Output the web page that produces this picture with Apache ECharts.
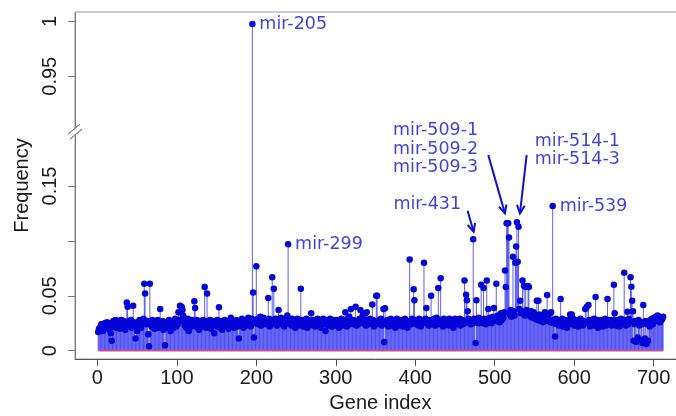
<!DOCTYPE html>
<html><head><meta charset="utf-8">
<script src="https://cdn.jsdelivr.net/npm/echarts@6/dist/echarts.min.js"></script>
<style>html,body{margin:0;padding:0;background:#fff}#c{width:676px;height:416px}</style>
</head><body><div id="c"></div>
<script>
// Frequency per gene (gene index 1..712)
const freq = [
0.017,0.020,0.019,0.022,0.024,0.021,0.018,0.023,0.025,0.022,
0.024,0.026,0.021,0.023,0.019,0.025,0.016,0.009,0.022,0.027,
0.024,0.026,0.028,0.021,0.025,0.027,0.023,0.020,0.026,0.028,
0.025,0.022,0.027,0.024,0.019,0.026,0.044,0.040,0.023,0.027,
0.025,0.028,0.021,0.024,0.041,0.026,0.022,0.011,0.025,0.018,
0.026,0.023,0.028,0.024,0.021,0.027,0.025,0.029,0.061,0.052,
0.026,0.024,0.027,0.015,0.004,0.061,0.025,0.022,0.028,0.024,
0.026,0.020,0.027,0.023,0.025,0.028,0.021,0.024,0.038,0.026,
0.022,0.027,0.019,0.024,0.005,0.023,0.026,0.021,0.025,0.028,
0.024,0.018,0.026,0.023,0.027,0.021,0.025,0.029,0.022,0.026,
0.024,0.035,0.028,0.041,0.027,0.040,0.037,0.032,0.026,0.023,
0.027,0.021,0.025,0.029,0.018,0.024,0.026,0.022,0.028,0.025,
0.023,0.045,0.039,0.026,0.028,0.021,0.025,0.019,0.027,0.024,
0.026,0.022,0.028,0.024,0.058,0.025,0.021,0.052,0.027,0.023,
0.025,0.028,0.020,0.026,0.023,0.027,0.016,0.024,0.026,0.022,
0.028,0.025,0.0395,0.021,0.027,0.024,0.019,0.026,0.023,0.028,
0.025,0.022,0.027,0.024,0.020,0.026,0.028,0.030,0.023,0.025,
0.027,0.021,0.026,0.024,0.028,0.022,0.025,0.011,0.027,0.023,
0.026,0.029,0.024,0.021,0.027,0.025,0.023,0.028,0.026,0.030,
0.024,0.027,0.022,0.029,0.9975,0.053,0.012,0.028,0.025,0.077,
0.026,0.029,0.024,0.027,0.031,0.023,0.028,0.025,0.030,0.026,
0.028,0.024,0.027,0.026,0.048,0.029,0.022,0.026,0.028,0.067,
0.027,0.0565,0.024,0.029,0.026,0.023,0.028,0.037,0.025,0.027,
0.030,0.024,0.028,0.026,0.022,0.029,0.027,0.025,0.032,0.097,
0.028,0.025,0.027,0.023,0.029,0.026,0.024,0.028,0.021,0.027,
0.025,0.029,0.023,0.027,0.026,0.0565,0.024,0.028,0.022,0.026,
0.027,0.024,0.029,0.021,0.026,0.028,0.023,0.025,0.034,0.027,
0.024,0.028,0.026,0.022,0.027,0.025,0.029,0.023,0.026,0.028,
0.021,0.027,0.025,0.029,0.024,0.026,0.018,0.028,0.025,0.023,
0.027,0.024,0.029,0.026,0.022,0.028,0.025,0.027,0.023,0.026,
0.028,0.024,0.026,0.021,0.027,0.025,0.029,0.023,0.026,0.028,
0.026,0.035,0.027,0.022,0.029,0.026,0.031,0.024,0.038,0.027,
0.025,0.028,0.024,0.026,0.040,0.023,0.027,0.024,0.025,0.029,
0.037,0.026,0.029,0.032,0.025,0.027,0.034,0.023,0.035,0.028,
0.026,0.024,0.029,0.027,0.025,0.042,0.028,0.022,0.026,0.024,
0.050,0.050,0.026,0.024,0.028,0.025,0.029,0.023,0.027,0.038,
0.008,0.0386,0.026,0.024,0.028,0.022,0.027,0.025,0.029,0.023,
0.026,0.028,0.024,0.027,0.021,0.026,0.029,0.025,0.023,0.028,
0.026,0.024,0.027,0.022,0.028,0.025,0.029,0.024,0.026,0.021,
0.027,0.025,0.083,0.026,0.024,0.029,0.027,0.056,0.046,0.028,
0.025,0.024,0.027,0.023,0.029,0.026,0.022,0.028,0.025,0.027,
0.080,0.026,0.029,0.039,0.025,0.027,0.023,0.028,0.026,0.050,
0.024,0.028,0.025,0.029,0.023,0.027,0.030,0.026,0.057,0.024,
0.028,0.066,0.025,0.027,0.022,0.029,0.026,0.024,0.028,0.025,
0.027,0.023,0.029,0.026,0.028,0.024,0.027,0.021,0.025,0.029,
0.026,0.028,0.024,0.027,0.025,0.029,0.023,0.026,0.028,0.024,
0.027,0.064,0.025,0.051,0.046,0.036,0.029,0.026,0.028,0.024,
0.027,0.025,0.1015,0.029,0.026,0.007,0.046,0.028,0.025,0.030,
0.027,0.026,0.060,0.028,0.025,0.057,0.029,0.027,0.024,0.064,
0.028,0.038,0.026,0.030,0.027,0.025,0.029,0.031,0.039,0.028,
0.030,0.061,0.027,0.032,0.029,0.026,0.031,0.034,0.028,0.033,
0.030,0.035,0.073,0.058,0.116,0.116,0.116,0.103,0.033,0.037,
0.031,0.034,0.0856,0.036,0.032,0.080,0.095,0.117,0.081,0.113,
0.038,0.0455,0.034,0.036,0.064,0.035,0.059,0.032,0.058,0.037,
0.033,0.059,0.058,0.034,0.031,0.036,0.033,0.030,0.035,0.032,
0.029,0.031,0.0455,0.028,0.0455,0.033,0.030,0.027,0.032,0.029,
0.026,0.030,0.035,0.028,0.031,0.0507,0.027,0.029,0.034,0.026,
0.035,0.028,0.1318,0.025,0.027,0.013,0.029,0.024,0.028,0.026,
0.023,0.027,0.047,0.025,0.029,0.022,0.026,0.028,0.024,0.027,
0.021,0.025,0.028,0.024,0.033,0.026,0.033,0.025,0.029,0.023,
0.027,0.024,0.026,0.028,0.022,0.027,0.025,0.029,0.024,0.026,
0.023,0.027,0.025,0.038,0.026,0.040,0.026,0.0416,0.028,0.022,
0.026,0.024,0.027,0.025,0.029,0.023,0.049,0.026,0.028,0.021,
0.025,0.027,0.024,0.028,0.026,0.022,0.027,0.025,0.029,0.023,
0.026,0.047,0.025,0.028,0.024,0.027,0.023,0.028,0.025,0.060,
0.034,0.026,0.023,0.028,0.025,0.027,0.022,0.026,0.029,0.024,
0.027,0.025,0.071,0.028,0.023,0.026,0.0355,0.024,0.029,0.027,
0.0668,0.0583,0.0455,0.036,0.009,0.024,0.027,0.008,0.025,0.012,
0.028,0.023,0.010,0.026,0.024,0.007,0.0416,0.025,0.011,0.027,
0.006,0.024,0.009,0.026,0.022,0.028,0.025,0.029,0.024,0.027,
0.030,0.028,0.031,0.027,0.032,0.029,0.031,0.026,0.030,0.028,
0.029,0.031
];
const xTicks = [0,100,200,300,400,500,600,700];
const yTicks = [0,0.05,0.1,0.15,0.95,1];
const yTickLabels = [0,0.05,0.15,0.95,1];
const pointLabels = [
  {name:'mir-205', gene:195},
  {name:'mir-299', gene:240},
  {name:'mir-539', gene:573}
];
const textLabels = [
  {text:'mir-431', gene:372.5, value:0.1333},
  {text:'mir-509-1\nmir-509-2\nmir-509-3', gene:372.0, value:0.1837},
  {text:'mir-514-1\nmir-514-3', gene:550.4, value:0.1821}
];
// arrows: [gene start, value start, gene end, value end]
const arrows = [
  [465.9,0.1275,473.5,0.1084],
  [491.9,0.1782,512.9,0.1251],
  [540.2,0.1782,531.8,0.1251]
];

const pts = freq.map((v,i)=>[i+1,v]);
const baseLine = [[1,0],[freq.length,0]];
const annBlue = '#1010d4';
const axisFont = {fontFamily:'Liberation Sans, Arial, sans-serif', fontSize:20, color:'#1a1a1a'};

const chart = echarts.init(document.getElementById('c'));
chart.setOption({
  animation:false,
  grid:{left:75, right:-9.7, top:12, bottom:57, outerBoundsMode:'none', containLabel:false,
    show:true, borderColor:'#9a9a9a', borderWidth:1},
  xAxis:{
    type:'value', min:-28.2, max:740.4,
    axisLine:{onZero:false, lineStyle:{color:'#555', width:1}},
    axisTick:{customValues:xTicks, length:7, lineStyle:{color:'#555'}},
    axisLabel:Object.assign({customValues:xTicks, margin:9}, axisFont),
    splitLine:{show:false},
    name:'Gene index', nameLocation:'middle', nameGap:34.5,
    nameTextStyle:axisFont
  },
  yAxis:{
    type:'value', min:-0.00756, max:1.0085,
    breaks:[{start:0.2, end:0.9, gap:0}],
    breakArea:{show:false},
    axisLine:{show:true, onZero:false, lineStyle:{color:'#777', width:1}},
    axisTick:{show:true, customValues:yTicks, length:7, lineStyle:{color:'#777'}},
    axisLabel:Object.assign({customValues:yTickLabels, rotate:90, margin:15,
      formatter:v=>String(v)}, axisFont),
    splitLine:{show:false},
    name:'Frequency', nameLocation:'middle', nameGap:35, nameRotate:90,
    nameTextStyle:axisFont
  },
  series:[
    {type:'bar', data:pts, barWidth:1, itemStyle:{color:'rgba(35,35,240,0.72)'}, z:2, silent:true},
    {type:'line', data:baseLine, symbol:'none', lineStyle:{color:'#e8487e', width:1.5}, z:3, silent:true},
    {type:'scatter', data:pts, symbolSize:6.5, itemStyle:{color:'#0505d8', opacity:1}, z:4, silent:true},
    {type:'scatter', symbolSize:0, z:5, silent:true,
      data:pointLabels.map(p=>({name:p.name, value:[p.gene, freq[p.gene-1]]})),
      label:{show:true, position:'right', distance:7, formatter:'{b}', color:annBlue,
        fontFamily:'DejaVu Sans', fontSize:17.5}},
    {type:'scatter', symbolSize:0, z:5, silent:true,
      data:textLabels.map(p=>({name:p.text, value:[p.gene, p.value]})),
      label:{show:true, position:'right', distance:0, formatter:'{b}', color:annBlue,
        fontFamily:'DejaVu Sans', fontSize:17.5, lineHeight:18.3, align:'left', verticalAlign:'middle'}},
    {type:'custom', data:arrows, z:5, silent:true, encode:{x:[0,2], y:[1,3]},
      renderItem:function(params, api){
        const p1 = api.coord([api.value(0), api.value(1)]);
        const p2 = api.coord([api.value(2), api.value(3)]);
        const ang = Math.atan2(p2[1]-p1[1], p2[0]-p1[0]);
        const L = 9, a = Math.PI/7;
        const h1 = [p2[0]-L*Math.cos(ang-a), p2[1]-L*Math.sin(ang-a)];
        const h2 = [p2[0]-L*Math.cos(ang+a), p2[1]-L*Math.sin(ang+a)];
        const st = {stroke:annBlue, lineWidth:2, fill:null};
        return {type:'group', children:[
          {type:'line', shape:{x1:p1[0],y1:p1[1],x2:p2[0],y2:p2[1]}, style:st},
          {type:'polyline', shape:{points:[h1,p2,h2]}, style:st}
        ]};
      }}
  ]
});

// axis break mark "//" on the y axis line
const yb = chart.convertToPixel({yAxisIndex:0}, 0.2);
const ax = 75;
chart.setOption({graphic:[
  {type:'rect', shape:{x:ax-3, y:yb-3, width:6, height:7}, style:{fill:'#fff'}, z:100, silent:true},
  {type:'line', shape:{x1:ax-7, y1:yb+3, x2:ax+5, y2:yb-7}, style:{stroke:'#777', lineWidth:1.2}, z:101, silent:true},
  {type:'line', shape:{x1:ax-5, y1:yb+8, x2:ax+7, y2:yb-2}, style:{stroke:'#777', lineWidth:1.2}, z:101, silent:true}
]});
</script></body></html>
